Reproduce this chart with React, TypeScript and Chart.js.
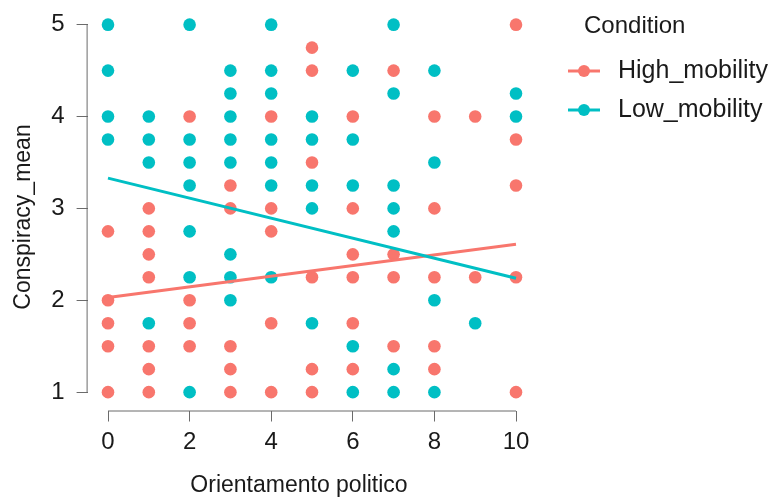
import { useEffect, useRef } from "react";
import { Chart, registerables } from "chart.js";
Chart.register(...registerables);

const RED = "#F8766D";
const TEAL = "#00BFC4";
const AXIS = "#6b6b6b";
const FONT = "'Liberation Sans', Arial, sans-serif";

const seriesNames = ["High_mobility", "Low_mobility"];
const legendTitle = "Condition";
const xTitle = "Orientamento politico";
const yTitle = "Conspiracy_mean";
const xTicks = [0, 2, 4, 6, 8, 10];
const yTicks = [1, 2, 3, 4, 5];

const highX = [
  0, 0, 0, 0, 0,
  1, 1, 1, 1, 1, 1, 1,
  2, 2, 2, 2,
  3, 3, 3, 3, 3,
  4, 4, 4, 4, 4,
  5, 5, 5, 5, 5, 5,
  6, 6, 6, 6, 6, 6,
  7, 7, 7, 7,
  8, 8, 8, 8, 8,
  9, 9,
  10, 10, 10, 10, 10,
];
const highY = [
  2.75, 2, 1.75, 1.5, 1,
  3, 2.75, 2.5, 2.25, 1.5, 1.25, 1,
  4, 2, 1.75, 1.5,
  3.25, 3, 1.5, 1.25, 1,
  4, 3, 2.75, 1.75, 1,
  4.75, 4.5, 3.5, 2.25, 1.25, 1,
  4, 3, 2.5, 2.25, 1.75, 1.25,
  4.5, 2.5, 2.25, 1.5,
  4, 3, 2.25, 1.5, 1.25,
  4, 2.25,
  5, 3.75, 3.25, 2.25, 1,
];
const lowX = [
  0, 0, 0, 0,
  1, 1, 1, 1,
  2, 2, 2, 2, 2, 2, 2,
  3, 3, 3, 3, 3, 3, 3, 3,
  4, 4, 4, 4, 4, 4, 4,
  5, 5, 5, 5, 5,
  6, 6, 6, 6, 6,
  7, 7, 7, 7, 7, 7, 7,
  8, 8, 8, 8,
  9,
  10, 10,
];
const lowY = [
  5, 4.5, 4, 3.75,
  4, 3.75, 3.5, 1.75,
  5, 3.75, 3.5, 3.25, 2.75, 2.25, 1,
  4.5, 4.25, 4, 3.75, 3.5, 2.5, 2.25, 2,
  5, 4.5, 4.25, 3.75, 3.5, 3.25, 2.25,
  4, 3.75, 3.25, 3, 1.75,
  4.5, 3.75, 3.25, 1.5, 1,
  5, 4.25, 3.25, 3, 2.75, 1.25, 1,
  4.5, 3.5, 2, 1,
  1.75,
  4.25, 4,
];
const fitX = [0, 10];
const highFit = [2.03, 2.61];
const lowFit = [3.33, 2.24];

const toPts = (xs: number[], ys: number[]) => xs.map((x, i) => ({ x, y: ys[i] }));

const decorPlugin = {
  id: "decor",
  afterDraw(chart: any) {
    const { ctx, chartArea } = chart;
    const xs = chart.scales.x;
    const ys = chart.scales.y;
    ctx.save();
    ctx.strokeStyle = AXIS;
    ctx.lineWidth = 1;
    ctx.beginPath();
    ctx.moveTo(xs.getPixelForValue(xTicks[0]), chartArea.bottom + 0.5);
    ctx.lineTo(xs.getPixelForValue(xTicks[xTicks.length - 1]), chartArea.bottom + 0.5);
    ctx.stroke();
    ctx.beginPath();
    ctx.moveTo(chartArea.left - 0.5, ys.getPixelForValue(yTicks[0]));
    ctx.lineTo(chartArea.left - 0.5, ys.getPixelForValue(yTicks[yTicks.length - 1]));
    ctx.stroke();

    ctx.fillStyle = "#1a1a1a";
    ctx.font = `23px ${FONT}`;
    ctx.textAlign = "center";
    ctx.textBaseline = "alphabetic";
    ctx.fillText(xTitle, 299, 492);
    ctx.save();
    ctx.translate(30, 217);
    ctx.rotate(-Math.PI / 2);
    ctx.fillText(yTitle, 0, 0);
    ctx.restore();

    ctx.textAlign = "left";
    ctx.textBaseline = "middle";
    ctx.font = `24px ${FONT}`;
    ctx.fillText(legendTitle, 584, 26);
    ctx.font = `25px ${FONT}`;
    const items = chart.data.datasets.filter((d: any) => d.type === "scatter");
    items.forEach((d: any, i: number) => {
      const cy = 71 + i * 39;
      ctx.strokeStyle = d.backgroundColor;
      ctx.lineWidth = 3;
      ctx.beginPath();
      ctx.moveTo(568, cy);
      ctx.lineTo(600, cy);
      ctx.stroke();
      ctx.fillStyle = d.backgroundColor;
      ctx.beginPath();
      ctx.arc(584, cy, 6, 0, Math.PI * 2);
      ctx.fill();
      ctx.fillStyle = "#1a1a1a";
      ctx.fillText(d.label, 618, cy);
    });
    ctx.restore();
  },
};

export default function App() {
  const ref = useRef<HTMLCanvasElement | null>(null);
  useEffect(() => {
    if (!ref.current) return;
    const chart = new Chart(ref.current, {
      type: "scatter",
      data: {
        datasets: [
          {
            type: "scatter",
            label: seriesNames[0],
            data: toPts(highX, highY),
            backgroundColor: RED,
            borderColor: RED,
            borderWidth: 0,
            pointRadius: 6.3,
            order: 3,
          },
          {
            type: "scatter",
            label: seriesNames[1],
            data: toPts(lowX, lowY),
            backgroundColor: TEAL,
            borderColor: TEAL,
            borderWidth: 0,
            pointRadius: 6.3,
            order: 2,
          },
          {
            type: "line",
            label: seriesNames[0] + " fit",
            data: toPts(fitX, highFit),
            borderColor: RED,
            borderWidth: 3,
            pointRadius: 0,
            fill: false,
            order: 1,
          },
          {
            type: "line",
            label: seriesNames[1] + " fit",
            data: toPts(fitX, lowFit),
            borderColor: TEAL,
            borderWidth: 3,
            pointRadius: 0,
            fill: false,
            order: 0,
          },
        ],
      } as any,
      options: {
        animation: false,
        responsive: false,
        layout: { padding: { left: 0, top: 4.5, right: 234.6, bottom: 0 } },
        plugins: { legend: { display: false }, tooltip: { enabled: false } },
        scales: {
          x: {
            type: "linear",
            min: -0.5,
            max: 10.5,
            afterBuildTicks: (axis: any) => {
              axis.ticks = xTicks.map((v) => ({ value: v }));
            },
            afterFit: (axis: any) => {
              axis.height = 87.5;
              axis.paddingLeft = 0;
              axis.paddingRight = 0;
            },
            border: { display: false },
            grid: { drawOnChartArea: false, drawTicks: true, tickLength: 11, color: AXIS, lineWidth: 1 },
            ticks: { color: "#1a1a1a", font: { family: FONT, size: 24 }, padding: 6, maxRotation: 0, autoSkip: false },
          },
          y: {
            type: "linear",
            min: 0.8,
            max: 5.2,
            afterBuildTicks: (axis: any) => {
              axis.ticks = yTicks.map((v) => ({ value: v }));
            },
            afterFit: (axis: any) => {
              axis.width = 87.6;
              axis.paddingTop = 0;
              axis.paddingBottom = 0;
            },
            border: { display: false },
            grid: { drawOnChartArea: false, drawTicks: true, tickLength: 11, color: AXIS, lineWidth: 1 },
            ticks: { color: "#1a1a1a", font: { family: FONT, size: 24 }, padding: 12 },
          },
        },
      },
      plugins: [decorPlugin],
    });
    return () => chart.destroy();
  }, []);
  return (
    <div style={{ position: "absolute", left: 0, top: 0, width: 771, height: 498, background: "#fff" }}>
      <canvas ref={ref} width={771} height={498} style={{ display: "block" }} />
    </div>
  );
}
